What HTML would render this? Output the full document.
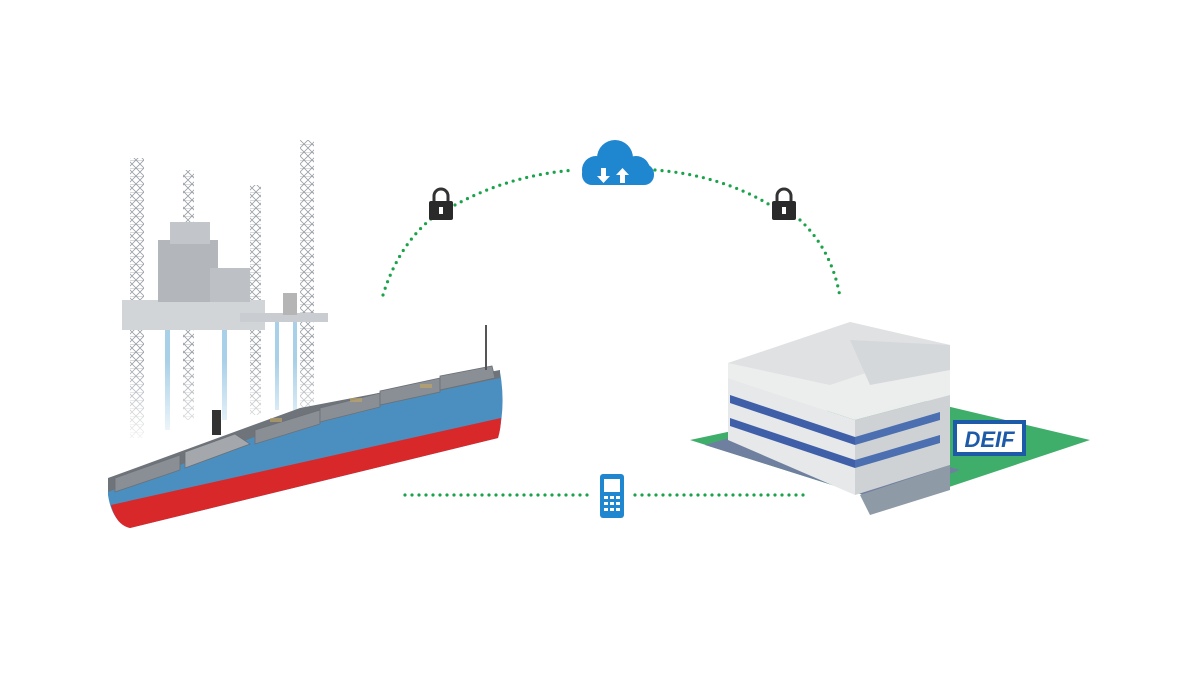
<!DOCTYPE html>
<html><head><meta charset="utf-8"><style>html,body{margin:0;padding:0;background:#fff;}svg{display:block}</style></head>
<body>
<svg width="1200" height="675" viewBox="0 0 1200 675" xmlns="http://www.w3.org/2000/svg">
<defs>
<linearGradient id="fade" x1="0" y1="0" x2="0" y2="1"><stop offset="0" stop-color="#fff" stop-opacity="0"/><stop offset="1" stop-color="#fff" stop-opacity="1"/></linearGradient>
<pattern id="lat" width="8" height="8" patternUnits="userSpaceOnUse"><path d="M0 0L8 8M8 0L0 8M0 0H8" stroke="#9aa0a6" stroke-width="0.8" fill="none"/></pattern>
</defs>
<g fill="none" stroke="#1aa34a" stroke-width="3.2" stroke-linecap="round" stroke-dasharray="0 7">
<path d="M383 295 Q400 240 440 212"/>
<path d="M455 205 Q510 175 575 170"/>
<path d="M655 170 Q720 175 770 205"/>
<path d="M800 220 Q832 250 840 297"/>
<path d="M405 495 H590"/>
<path d="M635 495 H805"/>
</g>
<g fill="#1f86d0">
<circle cx="596" cy="170" r="14"/><circle cx="615" cy="158" r="18"/><circle cx="636" cy="170" r="14"/>
<rect x="582" y="164" width="72" height="21" rx="10"/>
</g>
<g fill="#fff"><path d="M601 168h5v8h4l-6.5 7-6.5-7h4z"/><path d="M620 183h5v-8h4l-6.5-7-6.5 7h4z"/></g>
<g>
<path d="M434 202v-6a7 7 0 0 1 14 0v6" fill="none" stroke="#333" stroke-width="3"/>
<rect x="429" y="201" width="24" height="19" rx="2" fill="#2a2a2a"/><rect x="439" y="207" width="4" height="7" fill="#fff"/>
<path d="M777 202v-6a7 7 0 0 1 14 0v6" fill="none" stroke="#333" stroke-width="3"/>
<rect x="772" y="201" width="24" height="19" rx="2" fill="#2a2a2a"/><rect x="782" y="207" width="4" height="7" fill="#fff"/>
</g>
<rect x="600" y="474" width="24" height="44" rx="3" fill="#1f86d0"/>
<rect x="604" y="479" width="16" height="13" fill="#fff"/>
<g fill="#fff"><rect x="604" y="496" width="4" height="3"/><rect x="610" y="496" width="4" height="3"/><rect x="616" y="496" width="4" height="3"/>
<rect x="604" y="502" width="4" height="3"/><rect x="610" y="502" width="4" height="3"/><rect x="616" y="502" width="4" height="3"/>
<rect x="604" y="508" width="4" height="3"/><rect x="610" y="508" width="4" height="3"/><rect x="616" y="508" width="4" height="3"/></g>
<!-- rig -->
<g>
<rect x="130" y="158" width="14" height="280" fill="url(#lat)"/>
<rect x="183" y="170" width="11" height="250" fill="url(#lat)"/>
<rect x="250" y="185" width="11" height="230" fill="url(#lat)"/>
<rect x="300" y="140" width="14" height="270" fill="url(#lat)"/>
<rect x="165" y="310" width="5" height="120" fill="#a8d0e8"/><rect x="222" y="310" width="5" height="110" fill="#a8d0e8"/>
<rect x="275" y="320" width="4" height="90" fill="#a8d0e8"/><rect x="293" y="320" width="4" height="90" fill="#a8d0e8"/>
<path d="M122 300L265 300L265 330L122 330Z" fill="#d2d5d8"/>
<path d="M240 313L328 313L328 322L240 322Z" fill="#c9ccd0"/>
<rect x="158" y="240" width="60" height="62" fill="#b3b7bb"/>
<rect x="170" y="222" width="40" height="22" fill="#c2c5c9"/>
<rect x="210" y="268" width="40" height="34" fill="#bdc1c5"/>
<rect x="283" y="293" width="14" height="22" fill="#b5b5b5"/>
<rect x="100" y="360" width="250" height="90" fill="url(#fade)"/>
</g>
<!-- ship -->
<g>
<path d="M108 482 L108 495 Q112 522 130 528 L498 438 Q506 405 500 372 L300 418 Z" fill="#4b8fc0"/>
<path d="M111 505 Q116 525 130 528 L498 438 Q501 428 501 418 Z" fill="#d9282a"/>
<path d="M108 478 L300 408 L500 370 L500 378 L300 420 L108 492Z" fill="#6f747a"/>
<g fill="#8a8f95" stroke="#6b7076" stroke-width="0.8">
<path d="M115 478 L180 455 L180 470 L115 492Z"/>
<path d="M185 452 L235 434 L250 444 L185 468Z" fill="#a4a8ac"/>
<path d="M255 430 L320 410 L320 424 L255 444Z"/>
<path d="M320 408 L380 393 L380 407 L320 422Z"/>
<path d="M380 391 L440 378 L440 392 L380 405Z"/>
<path d="M440 376 L492 366 L495 378 L440 390Z"/>
</g>
<g fill="#c8a860" opacity="0.6"><rect x="270" y="418" width="12" height="4"/><rect x="350" y="398" width="12" height="4"/><rect x="420" y="384" width="12" height="4"/></g>
<rect x="212" y="410" width="9" height="25" fill="#333"/>
<path d="M486 325v45" stroke="#555" stroke-width="2"/>
</g>
<!-- building -->
<g>
<path d="M690 440 L895 505 L1090 440 L900 395 Z" fill="#3fae6a"/>
<path d="M705 445 L880 500 L960 470 L790 420 Z" fill="#6f7fa0"/>
<path d="M728 363 L850 322 L950 345 L950 395 L855 420 L728 378Z" fill="#eceeee"/>
<path d="M728 363 L850 322 L950 345 L830 385Z" fill="#dfe1e2"/>
<path d="M850 340 L950 345 L950 370 L870 385Z" fill="#d5d8da"/>
<path d="M728 378 L855 420 L855 495 L728 440Z" fill="#e6e8e9"/>
<path d="M855 420 L950 395 L950 465 L855 495Z" fill="#cfd2d4"/>
<path d="M730 395 L855 437 L855 445 L730 403Z" fill="#3f5fa8"/>
<path d="M730 418 L855 460 L855 468 L730 426Z" fill="#3f5fa8"/>
<path d="M855 437 L940 412 L940 420 L855 445Z" fill="#4b6fb0"/>
<path d="M855 460 L940 435 L940 443 L855 468Z" fill="#4b6fb0"/>
<path d="M860 495 L870 515 L950 490 L950 465Z" fill="#8e9aa6"/>
<rect x="953" y="420" width="73" height="36" fill="#1d5aa8"/>
<rect x="957" y="424" width="65" height="28" fill="#fff"/>
<text x="989.5" y="447" text-anchor="middle" font-family="Liberation Sans, sans-serif" font-weight="bold" font-style="italic" font-size="22" fill="#1d5aa8">DEIF</text>
</g>
</svg>
</body></html>
